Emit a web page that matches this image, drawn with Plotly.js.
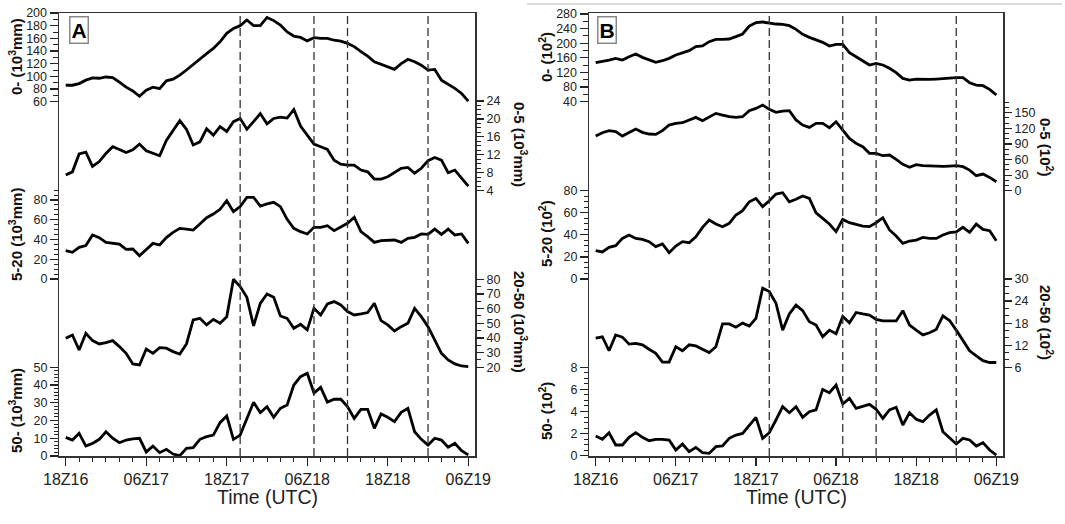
<!DOCTYPE html>
<html><head><meta charset="utf-8">
<script src="https://cdn.plot.ly/plotly-3.0.1.min.js"></script>
<style>html,body{margin:0;padding:0;background:#fff}#chart{width:1065px;height:524px}</style>
</head><body><div id="chart"></div><script>
// ---- data ----
const hours = [0,1,2,3,4,5,6,7,8,9,10,11,12,13,14,15,16,17,18,19,20,21,22,23,24,25,26,27,28,29,30,31,32,33,34,35,36,37,38,39,40,41,42,43,44,45,46,47,48,49,50,51,52,53,54,55,56,57,58,59,60];
const timeTickHours = [0,12,24,36,48,60];
const timeTickLabels = ['18Z16','06Z17','18Z17','06Z18','18Z18','06Z19'];
const eventHours = [26,37,42,54];

const A_total = [86,86,88.6,94,97.6,97,99,98,91,83,77,68.6,78,83,80.7,93,95.5,102,110,119,128,136,144,154.6,168,175.7,180,189,180,180,193,188,181,170,163.6,161.5,156,161,160,160,157,155.6,152,147,139,132,123,119,116,111,120,127,123,117.6,110,111,94,88,81,73,61];
const A_0_5 = [7.5,8.2,12.2,12.6,9.4,10.5,12.3,13.8,13.2,12.5,13.1,14.4,12.9,12.3,11.8,15.2,17.3,19.6,17.7,14.2,14.9,17.8,16.4,18.3,17.2,19.4,20.1,17.7,19.4,21.2,18.9,20.1,20.4,20.2,22.1,18.4,16.4,14.4,13.8,13.2,10.8,9.9,9.7,9.7,8.6,8.2,6.6,6.6,7.1,8.1,9.0,9.2,7.9,9.0,10.7,11.4,10.8,8.0,8.6,6.8,5.0];
const A_5_20 = [28.7,27,32,33.8,44.6,41.9,37.1,36.1,35.4,30,30.4,23.6,30,36.1,34.4,41.9,47.3,51.3,50.6,49.6,55.7,62.1,65.8,70.6,79.3,68.2,73.3,82.7,82.7,73.9,76,77.6,73.3,60.4,51.3,47.9,45.6,52.3,52.3,54,49,52.3,56.4,62.5,47.9,42.9,37.1,38.8,39.5,39.5,37.1,41.2,42.2,45.6,45.2,50.6,45.2,50.6,44.6,45.6,36.1];
const A_20_50 = [39.8,42,31.8,43.2,38.2,35.9,36.8,38.2,34.1,29.5,22.3,21.6,32.5,29.5,33.4,33,30.7,29.1,35.9,52.3,53.4,48.9,52.7,50,54.5,80,75,67.7,48.2,63.6,70,67.7,55,53.4,46.6,49.3,45.5,60.2,55.7,63.2,64.8,62.5,58,55.7,56.4,57.3,63.6,51.8,48.9,44.8,47.7,50,60.2,54.5,47.7,38.6,29.5,25,22.3,20.9,20.5];
const A_50 = [10.5,9,12.8,5.6,7.1,9.4,13.7,10,7.5,9,9.6,10,2.3,5.6,1.9,3.8,1.1,0.2,4.3,4.7,9.4,10.9,11.8,18.8,22.6,9.4,11.8,20.7,30.3,24.4,27.8,21.8,26.9,28.8,40,44.7,46.6,35.5,38.7,30.4,32,32,27.8,21.2,26.3,26.3,15.6,23.7,21.8,19.4,24.6,26.9,13.7,9.4,6.2,10,9,4.9,7.1,3,0.6];

const B_total = [146.8,149.5,154,158.6,154,163,170.5,161.4,154,147.7,152.2,158.6,167.8,174.2,179.6,190.6,192.4,204.3,210.6,210.6,211.6,218,225.2,247.1,256.3,258.1,254.5,252.6,251.7,248,238,224.3,216.1,208.8,202.4,192.4,197,197,174.2,163.2,152.2,140.4,145,140.4,131.3,119.4,103.9,99.3,102,101.1,101.1,102,103.9,105.7,105.7,105.7,92,85.6,83.8,73.8,58.3];
const B_0_5 = [105,111.5,115.4,113.5,105,111.5,118.6,112.2,109,108.3,115.4,126.3,129.5,130.8,135.9,141,134.6,142.3,148.7,145.5,142.3,141,142.3,153.8,158.3,164.7,156.4,150.6,153.2,153.8,136,126.3,121.8,129.5,129.5,121.1,132.7,116.7,100.6,91,84.6,71.8,71.8,67.3,68.6,60.3,50.6,44.9,50,48.1,47.4,47.4,46.8,47.4,48.1,46.2,39.7,28.8,32,25.6,17.3];
const B_5_20 = [25.7,24.5,28.7,30.2,36.8,39.9,36.8,35.9,33.8,29.3,31.7,23.9,29.9,33.8,32.9,38.3,46.8,53.4,49.8,47.4,50.4,58,61.9,70,73,65.5,70.9,77,78.2,70,72.2,75.2,73,60,54.9,49.8,42.9,54,51,49.5,48,47.4,51,55.5,44.4,38.9,32.3,34.4,35.3,37.7,36.8,36.8,39.9,42,42.6,46.8,42.3,49.8,45,43.8,34.7];
const B_20_50 = [13.9,14.3,10.5,14.8,14.2,12.3,12.5,12.1,10.9,9.8,7.4,7.4,11.6,10.5,12.1,11.8,10.9,10,11.6,17.8,17.8,16.9,18,17.2,19.3,27.5,26.6,23.4,16.1,20.5,22.9,21.4,18.4,17.5,14.3,16.1,15.1,19.8,18.1,20.9,20.5,20.2,19,18.6,18.6,18.6,21.4,17.5,16.1,14.8,15.4,16.3,20,18.7,16.1,13.4,10.5,9.1,7.8,7.3,7.3];
const B_50 = [1.78,1.48,2.08,0.97,0.97,1.66,2.08,1.66,1.36,1.48,1.48,1.42,0.51,1.06,0.36,0.75,0.27,0.21,0.82,0.88,1.57,1.87,2.02,2.78,3.47,1.57,2.08,3.23,4.44,3.89,4.44,3.47,3.98,4.14,6.0,5.7,6.4,4.68,5.19,4.29,4.5,4.65,4.2,3.38,4.14,4.38,2.78,3.89,3.29,3.08,3.68,4.14,2.17,1.57,1.06,1.57,1.42,0.88,1.18,0.51,0.06];

const A_titles = ['0- (10<sup>3</sup>mm)','0-5 (10<sup>3</sup>mm)','5-20 (10<sup>3</sup>mm)','20-50 (10<sup>3</sup>mm)','50- (10<sup>3</sup>mm)'];
const B_titles = ['0- (10<sup>2</sup>)','0-5 (10<sup>2</sup>)','5-20 (10<sup>2</sup>)','20-50 (10<sup>2</sup>)','50- (10<sup>2</sup>)'];

// ---- geometry ----
const W = 1065, H = 524, TOP = 13, BOT = 456;
const FONT = '"Liberation Sans", Arial, Helvetica, sans-serif';
function rng(v1, p1, v2, p2) { const k = (v1 - v2) / (p2 - p1); return [v1 - (BOT - p1) * k, v1 + (p1 - TOP) * k]; }
function seq(a, b, s) { const o = []; for (let v = a; v <= b + 1e-9; v += s) o.push(+v.toFixed(4)); return o; }
const yDom = [1 - BOT / H, 1 - TOP / H];

// per sub-axis: [v1,p1,v2,p2, majorStart, majorEnd, majorStep, minorStart, minorEnd, minorStep]
const A_axes = [
  [200, 13, 60, 101.7, 60, 200, 20, 60, 200, 10],
  [24, 101, 4, 190.7, 4, 24, 4, 4, 24, 1],
  [80, 200, 0, 279, 0, 80, 20, 0, 90, 5],
  [80, 279.3, 20, 367.3, 20, 80, 10, 20, 80, 5],
  [50, 367.3, 0, 456, 0, 50, 10, 0, 50, 2]
];
const B_axes = [
  [280, 14, 40, 101.7, 40, 280, 40, 40, 280, 20],
  [150, 112.7, 0, 190.7, 0, 150, 30, 0, 170, 10],
  [80, 190.7, 0, 279, 0, 80, 20, 0, 80, 5],
  [30, 279, 6, 367.3, 6, 30, 6, 6, 30, 2],
  [8, 367.3, 0, 455.7, 0, 8, 2, 0, 8, 0.5]
];
const A_series = [A_total, A_0_5, A_5_20, A_20_50, A_50];
const B_series = [B_total, B_0_5, B_5_20, B_20_50, B_50];

const layout = {
  width: W, height: H, margin: {l: 0, r: 0, t: 0, b: 0},
  paper_bgcolor: '#fff', plot_bgcolor: '#fff', showlegend: false,
  font: {family: FONT, color: '#222'},
  shapes: [], annotations: []
};
const traces = [];

function xAxisDef(l, r, anchor) {
  return {
    domain: [l / W, r / W], range: [-1, 61], anchor: anchor,
    tickmode: 'array', tickvals: timeTickHours, ticktext: timeTickLabels,
    ticks: 'outside', ticklen: 8, tickwidth: 1.2, tickcolor: '#222',
    minor: {tickmode: 'array', tickvals: seq(0, 60, 2), ticks: 'outside', ticklen: 4, tickwidth: 1, tickcolor: '#222'},
    showline: true, mirror: true, linecolor: '#333', linewidth: 1.5,
    showgrid: false, zeroline: false, tickfont: {size: 16, color: '#222', family: FONT}
  };
}
layout.xaxis = xAxisDef(59, 475, 'y');
layout.xaxis2 = xAxisDef(589, 1003, 'y6');

function buildPanel(axes, series, titles, xName, yStart, leftTitleX, rightTitleX, titleYs) {
  axes.forEach((a, i) => {
    const idx = yStart + i;
    const key = idx === 1 ? 'yaxis' : 'yaxis' + idx;
    const side = i % 2 === 0 ? 'left' : 'right';
    const ax = {
      range: rng(a[0], a[1], a[2], a[3]), anchor: xName === 'x' ? 'x' : 'x2', side: side,
      tickmode: 'array', tickvals: seq(a[4], a[5], a[6]),
      ticks: 'outside', ticklen: 8, tickwidth: 1.2, tickcolor: '#222',
      minor: {tickmode: 'array', tickvals: seq(a[7], a[8], a[9]), ticks: 'outside', ticklen: 4.5, tickwidth: 1, tickcolor: '#222'},
      showgrid: false, zeroline: false, tickfont: {size: 12.5, color: '#222', family: FONT}
    };
    if (i === 0) {
      ax.domain = yDom; ax.showline = true; ax.mirror = true; ax.linecolor = '#333'; ax.linewidth = 1.5;
    } else {
      ax.overlaying = yStart === 1 ? 'y' : 'y' + yStart; ax.showline = false;
    }
    layout[key] = ax;
    traces.push({
      x: hours, y: series[i], type: 'scatter', mode: 'lines',
      xaxis: xName, yaxis: idx === 1 ? 'y' : 'y' + idx,
      line: {color: '#000', width: 2.8}, hoverinfo: 'skip'
    });
    layout.annotations.push({
      xref: 'paper', yref: 'paper', x: (side === 'left' ? leftTitleX : rightTitleX) / W, y: 1 - titleYs[i] / H,
      xanchor: 'center', yanchor: 'middle', showarrow: false,
      textangle: side === 'left' ? -90 : 90,
      text: '<b>' + titles[i] + '</b>', font: {size: 15, color: '#111', family: FONT}
    });
  });
}
buildPanel(A_axes, A_series, A_titles, 'x', 1, 15, 521, [57, 144, 235, 322, 411]);
buildPanel(B_axes, B_series, B_titles, 'x2', 6, 545, 1047, [57, 147, 234, 322, 411]);

// dashed event lines
eventHours.forEach(h => {
  ['x', 'x2'].forEach(xr => {
    layout.shapes.push({type: 'line', xref: xr, yref: 'paper', x0: h, x1: h, y0: yDom[0], y1: yDom[1],
      line: {color: '#333', width: 1.3, dash: '8px,4px'}});
  });
});
// faint line at top right
layout.shapes.push({type: 'line', xref: 'paper', yref: 'paper', x0: 527 / W, x1: 1062 / W, y0: 1 - 4 / H, y1: 1 - 4 / H,
  line: {color: '#dcdcdc', width: 2}});

// panel labels
[['A', 79], ['B', 606.5]].forEach(([t, px]) => {
  layout.annotations.push({xref: 'paper', yref: 'paper', x: px / W, y: 1 - 30 / H, xanchor: 'center', yanchor: 'middle',
    showarrow: false, text: '<b>' + t + '</b>', font: {size: 21, color: '#000', family: FONT},
    bordercolor: '#888', borderwidth: 1.5, borderpad: 1, bgcolor: '#fff'});
});
// x titles
[267, 796].forEach(px => {
  layout.annotations.push({xref: 'paper', yref: 'paper', x: px / W, y: 1 - 497 / H, xanchor: 'center', yanchor: 'middle',
    showarrow: false, text: 'Time (UTC)', font: {size: 19.5, color: '#222', family: FONT}});
});

Plotly.newPlot('chart', traces, layout, {staticPlot: true, displayModeBar: false});
</script></body></html>
